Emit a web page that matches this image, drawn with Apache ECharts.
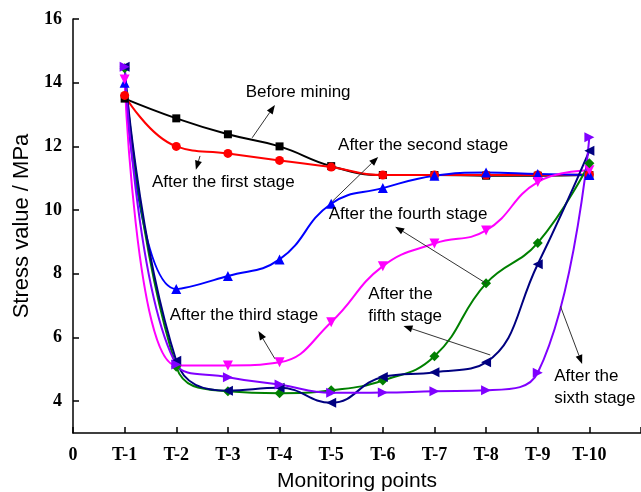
<!DOCTYPE html>
<html>
<head>
<meta charset="utf-8">
<script src="https://cdn.jsdelivr.net/npm/echarts@6/dist/echarts.min.js"></script>
<style>
  html, body { margin: 0; padding: 0; background: #fff; }
  #chart { width: 641px; height: 492px; }
</style>
</head>
<body>
<div id="chart"></div>
<script>
// Axis tick labels (x positions 0..10) and the monitoring points
const tickLabels = ['0', 'T-1', 'T-2', 'T-3', 'T-4', 'T-5', 'T-6', 'T-7', 'T-8', 'T-9', 'T-10'];
const points = ['T-1', 'T-2', 'T-3', 'T-4', 'T-5', 'T-6', 'T-7', 'T-8', 'T-9', 'T-10'];
const yTicks = [4, 6, 8, 10, 12, 14, 16];

// Stress values (MPa) at each monitoring point
const beforeMining = [13.50, 12.88, 12.38, 12.00, 11.38, 11.10, 11.10, 11.08, 11.08, 11.10];
const firstStage   = [13.60, 12.00, 11.78, 11.56, 11.35, 11.10, 11.10, 11.10, 11.10, 11.12];
const secondStage  = [14.00, 7.52, 7.93, 8.45, 10.20, 10.69, 11.08, 11.18, 11.13, 11.10];
const thirdStage   = [14.10, 5.12, 5.12, 5.22, 6.48, 8.24, 8.95, 9.36, 10.88, 11.25];
const fourthStage  = [14.45, 5.08, 4.31, 4.25, 4.34, 4.65, 5.41, 7.70, 8.97, 11.47];
const fifthStage   = [14.50, 5.27, 4.33, 4.42, 3.95, 4.76, 4.91, 5.22, 8.30, 11.86];
const sixthStage   = [14.50, 5.15, 4.75, 4.52, 4.26, 4.27, 4.31, 4.34, 4.89, 12.29];

// Callout texts and their arrows, in data coordinates [x, MPa]
const notes = [
  { text: 'Before mining',          at: [4.36, 13.70], align: 'center', from: [3.47, 12.27], to: [3.91, 13.30] },
  { text: 'After the first stage',  at: [2.91, 10.86], align: 'center', from: [2.46, 11.70], to: [2.38, 11.27] },
  { text: 'After the second stage', at: [6.78, 12.02], align: 'center', from: [5.02, 10.27], to: [5.91, 11.67] },
  { text: 'After the fourth stage', at: [6.49, 9.86],  align: 'center', from: [8.00, 7.70],  to: [6.24, 9.48] },
  { text: 'After the third stage',  at: [3.31, 6.70],  align: 'center', from: [3.91, 5.33],  to: [3.59, 6.20] },
  { text: 'After the\nfifth stage', at: [5.72, 7.02],  align: 'left',   from: [8.08, 5.45],  to: [6.40, 6.36] },
  { text: 'After the\nsixth stage', at: [9.32, 4.45],  align: 'left',   from: [9.44, 6.98],  to: [9.86, 5.17] }
];

const chart = echarts.init(document.getElementById('chart'), null, { renderer: 'canvas' });

function pairs(values) {
  return values.map((v, i) => [tickLabels.indexOf(points[i]), v]);
}

function lineSeries(name, values, color, symbol, size, rotate) {
  return {
    name: name,
    type: 'line',
    data: pairs(values),
    smooth: 0.45,
    symbol: symbol,
    symbolSize: size,
    symbolRotate: rotate || 0,
    lineStyle: { color: color, width: 2 },
    itemStyle: { color: color },
    z: 3
  };
}

const tickFont = { fontFamily: '"Liberation Serif", "DejaVu Serif", serif', fontWeight: 'bold', fontSize: 18, color: '#000' };

chart.setOption({
  animation: false,
  backgroundColor: '#fff',
  grid: { left: 73, right: 0, top: 19, bottom: 59, containLabel: false, outerBoundsMode: 'none' },
  xAxis: {
    type: 'value',
    min: 0, max: 11, interval: 1,
    name: 'Monitoring points',
    nameLocation: 'middle',
    nameGap: 38,
    nameTextStyle: { fontFamily: '"Liberation Sans", Arial, sans-serif', fontSize: 21, color: '#000' },
    axisLine: { onZero: false, lineStyle: { color: '#000', width: 1.5 } },
    axisTick: { inside: true, length: 6, lineStyle: { color: '#000', width: 1.5 } },
    axisLabel: Object.assign({ margin: 13, formatter: v => (tickLabels[v] !== undefined ? tickLabels[v] : '') }, tickFont),
    splitLine: { show: false }
  },
  yAxis: {
    type: 'value',
    min: 3, max: 16,
    name: 'Stress value / MPa',
    nameLocation: 'middle',
    nameGap: 40,
    nameTextStyle: { fontFamily: '"Liberation Sans", Arial, sans-serif', fontSize: 22, color: '#000' },
    axisLine: { onZero: false, lineStyle: { color: '#000', width: 1.5 } },
    axisTick: { inside: true, length: 6, customValues: yTicks, lineStyle: { color: '#000', width: 1.5 } },
    axisLabel: Object.assign({ margin: 11, customValues: yTicks }, tickFont),
    splitLine: { show: false }
  },
  series: [
    lineSeries('Before mining', beforeMining, '#000000', 'rect', 8),
    lineSeries('After the first stage', firstStage, '#ff0000', 'circle', 9),
    lineSeries('After the second stage', secondStage, '#0000ff', 'triangle', 10),
    lineSeries('After the third stage', thirdStage, '#ff00ff', 'triangle', 10, 180),
    lineSeries('After the fourth stage', fourthStage, '#008000', 'diamond', 10),
    lineSeries('After the fifth stage', fifthStage, '#000080', 'triangle', 10, 90),
    lineSeries('After the sixth stage', sixthStage, '#8000ff', 'triangle', 10, -90)
  ]
});

// Callouts: text plus thin arrows, positioned through the chart's own axes
function toPx(p) { return chart.convertToPixel({ gridIndex: 0 }, p); }

const graphics = [];
notes.forEach(n => {
  const t = toPx(n.at);
  graphics.push({
    type: 'text',
    x: t[0], y: t[1],
    z: 10,
    style: {
      text: n.text,
      fill: '#000',
      font: '17px "Liberation Sans", Arial, sans-serif',
      align: n.align,
      verticalAlign: 'middle',
      lineHeight: 22
    }
  });
  const a = toPx(n.from), b = toPx(n.to);
  const dx = b[0] - a[0], dy = b[1] - a[1];
  const len = Math.sqrt(dx * dx + dy * dy);
  const ux = dx / len, uy = dy / len;
  const headL = 9, headW = 3.5;
  const bx = b[0] - ux * headL, by = b[1] - uy * headL;
  graphics.push({
    type: 'line', z: 10,
    shape: { x1: a[0], y1: a[1], x2: bx, y2: by },
    style: { stroke: '#333', lineWidth: 1 }
  });
  graphics.push({
    type: 'polygon', z: 10,
    shape: { points: [[b[0], b[1]], [bx - uy * headW, by + ux * headW], [bx + uy * headW, by - ux * headW]] },
    style: { fill: '#000' }
  });
});
chart.setOption({ graphic: graphics });
</script>
</body>
</html>
